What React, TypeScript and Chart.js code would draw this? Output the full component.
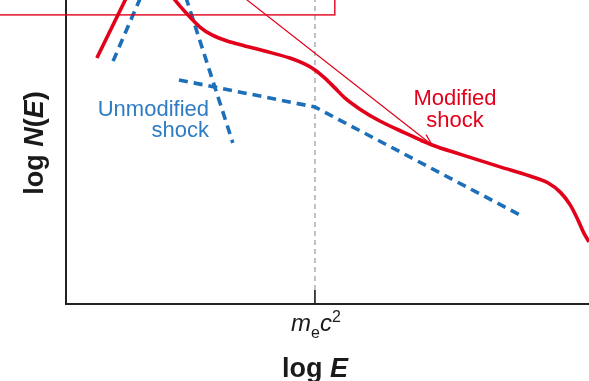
import { useEffect, useRef } from "react";
import { Chart, registerables } from "chart.js";

Chart.register(...registerables);

// Schematic spectrum: log E runs 0–100 across the frame, log N(E) 0–100 from the axis up.
const modifiedLogE = [19.9, 21.8, 23.7, 25.6, 27.9, 30.8, 34.2, 38.0, 42.8, 45.7, 47.6, 49.5, 51.4, 53.3, 56.2, 60.0, 64.8, 70.0, 75.3, 83.0, 88.7, 92.2, 94.5, 96.4, 97.9, 99.0, 100.0, 100.8];
const modifiedLogN = [102.0, 98.0, 94.4, 91.1, 88.5, 86.5, 84.9, 83.2, 80.9, 78.9, 77.0, 74.3, 71.1, 67.8, 64.1, 60.2, 56.3, 52.3, 49.3, 45.1, 42.1, 39.8, 36.8, 32.6, 27.6, 23.4, 20.4, 17.4];

const modifiedLowLogE = [5.9, 8.8, 11.7];
const modifiedLowLogN = [80.9, 91.1, 101.3];

const unmodifiedLowLogE = [9.0, 14.3];
const unmodifiedLowLogN = [79.9, 101.0];

const unmodifiedMidLogE = [22.9, 31.9];
const unmodifiedMidLogN = [101.0, 53.0];

const unmodifiedHighLogE = [21.6, 47.6, 87.2];
const unmodifiedHighLogN = [73.7, 64.8, 28.9];

// electron rest energy marker
const restEnergyLogE = 47.6;
const tickTopLogN = 4.6;

// pointer from the boxed note to the modified spectrum
const arrowLogE = [32.4, 70.0];
const arrowLogN = [103.0, 52.3];

// corner of the boxed note
const noteBoxLogE = 51.4;
const noteBoxLogN = 95.1;

const RED = "#e2001a";
const BLUE = "#1c6fb8";
const BLUE_TEXT = "#2f7cc3";
const SANS = '"Liberation Sans", Arial, sans-serif';

const pts = (xs: number[], ys: number[]) => xs.map((x, i) => ({ x, y: ys[i] }));

function drawRich(ctx: CanvasRenderingContext2D, parts: { t: string; f: string; dy: number }[], cx: number, baseline: number) {
  ctx.textAlign = "left";
  ctx.textBaseline = "alphabetic";
  ctx.fillStyle = "#1a1a1a";
  let total = 0;
  const widths = parts.map((p) => {
    ctx.font = p.f;
    const w = ctx.measureText(p.t).width;
    total += w;
    return w;
  });
  let x = cx - total / 2;
  parts.forEach((p, i) => {
    ctx.font = p.f;
    ctx.fillText(p.t, x, baseline + p.dy);
    x += widths[i];
  });
}

const annotations = {
  id: "annotations",
  afterDatasetsDraw(chart: any) {
    const { ctx } = chart;
    const xs = chart.scales.x;
    const ys = chart.scales.y;
    const px = (v: number) => xs.getPixelForValue(v);
    const py = (v: number) => ys.getPixelForValue(v);
    ctx.save();

    // boxed note outline
    ctx.strokeStyle = RED;
    ctx.lineWidth = 1.4;
    ctx.strokeRect(-20, -20, px(noteBoxLogE) + 20, py(noteBoxLogN) + 20);

    // pointer line with open arrowhead
    const x0 = px(arrowLogE[0]);
    const y0 = py(arrowLogN[0]);
    const x1 = px(arrowLogE[1]);
    const y1 = py(arrowLogN[1]);
    ctx.lineWidth = 1.2;
    ctx.beginPath();
    ctx.moveTo(x0, y0);
    ctx.lineTo(x1, y1);
    const a = Math.atan2(y1 - y0, x1 - x0);
    const h = 12;
    ctx.moveTo(x1 - h * Math.cos(a - 0.38), y1 - h * Math.sin(a - 0.38));
    ctx.lineTo(x1, y1);
    ctx.lineTo(x1 - h * Math.cos(a + 0.38), y1 - h * Math.sin(a + 0.38));
    ctx.stroke();

    // series labels
    ctx.textBaseline = "alphabetic";
    ctx.font = `22px ${SANS}`;
    ctx.fillStyle = BLUE_TEXT;
    ctx.textAlign = "right";
    ctx.fillText("Unmodified", 209, 116);
    ctx.fillText("shock", 209, 137);

    ctx.fillStyle = RED;
    ctx.textAlign = "center";
    ctx.fillText("Modified", 455, 105);
    ctx.fillText("shock", 455, 127);
    ctx.restore();

    // axis titles
    ctx.save();
    drawRich(ctx, [
      { t: "log ", f: `bold 27px ${SANS}`, dy: 0 },
      { t: "E", f: `italic bold 27px ${SANS}`, dy: 0 },
    ], 315, 377);
    ctx.translate(43, 143);
    ctx.rotate(-Math.PI / 2);
    drawRich(ctx, [
      { t: "log ", f: `bold 27px ${SANS}`, dy: 0 },
      { t: "N", f: `italic bold 27px ${SANS}`, dy: 0 },
      { t: "(", f: `bold 27px ${SANS}`, dy: 0 },
      { t: "E", f: `italic bold 27px ${SANS}`, dy: 0 },
      { t: ")", f: `bold 27px ${SANS}`, dy: 0 },
    ], 0, 0);
    ctx.restore();

    // tick label m_e c^2
    ctx.save();
    drawRich(ctx, [
      { t: "m", f: `italic 24px ${SANS}`, dy: 0 },
      { t: "e", f: `16px ${SANS}`, dy: 7 },
      { t: "c", f: `italic 24px ${SANS}`, dy: 0 },
      { t: "2", f: `16px ${SANS}`, dy: -9 },
    ], px(restEnergyLogE) + 1, 331);
    ctx.restore();
  },
};

export default function App() {
  const ref = useRef<HTMLCanvasElement>(null);

  useEffect(() => {
    if (!ref.current) return;
    const dashed = { borderColor: BLUE, borderWidth: 3.6, borderDash: [9, 6], tension: 0, order: 3 };
    const chart = new Chart(ref.current, {
      type: "line",
      data: {
        datasets: [
          { data: pts(modifiedLogE, modifiedLogN), borderColor: RED, borderWidth: 3.6, cubicInterpolationMode: "monotone", order: 1 },
          { data: pts(modifiedLowLogE, modifiedLowLogN), borderColor: RED, borderWidth: 3.6, tension: 0, order: 1 },
          { data: pts(unmodifiedLowLogE, unmodifiedLowLogN), ...dashed },
          { data: pts(unmodifiedMidLogE, unmodifiedMidLogN), ...dashed },
          { data: pts(unmodifiedHighLogE, unmodifiedHighLogN), ...dashed },
          {
            data: pts([restEnergyLogE, restEnergyLogE], [tickTopLogN, 100]),
            borderColor: "#b3b3b3",
            borderWidth: 1.6,
            borderDash: [5, 4],
            order: 5,
          },
          {
            data: pts([restEnergyLogE, restEnergyLogE], [0, tickTopLogN]),
            borderColor: "#1a1a1a",
            borderWidth: 1.6,
            order: 5,
          },
        ] as any,
      },
      options: {
        animation: false,
        responsive: false,
        devicePixelRatio: 1,
        parsing: false as any,
        elements: { point: { radius: 0 }, line: { fill: false, borderCapStyle: "butt" } },
        layout: { padding: { left: 66, right: 0, top: 0, bottom: 77 } },
        plugins: { legend: { display: false }, tooltip: { enabled: false } },
        scales: {
          x: {
            type: "linear",
            min: 0,
            max: 100,
            grid: { display: false, drawTicks: false },
            ticks: { display: false },
            border: { display: true, color: "#222", width: 2 },
          },
          y: {
            type: "linear",
            min: 0,
            max: 100,
            grid: { display: false, drawTicks: false },
            ticks: { display: false },
            border: { display: true, color: "#222", width: 2 },
          },
        },
      },
      plugins: [annotations],
    });
    return () => chart.destroy();
  }, []);

  return (
    <div style={{ position: "fixed", left: 0, top: 0, width: 589, height: 381, background: "#fff" }}>
      <canvas ref={ref} width={589} height={381} />
    </div>
  );
}
